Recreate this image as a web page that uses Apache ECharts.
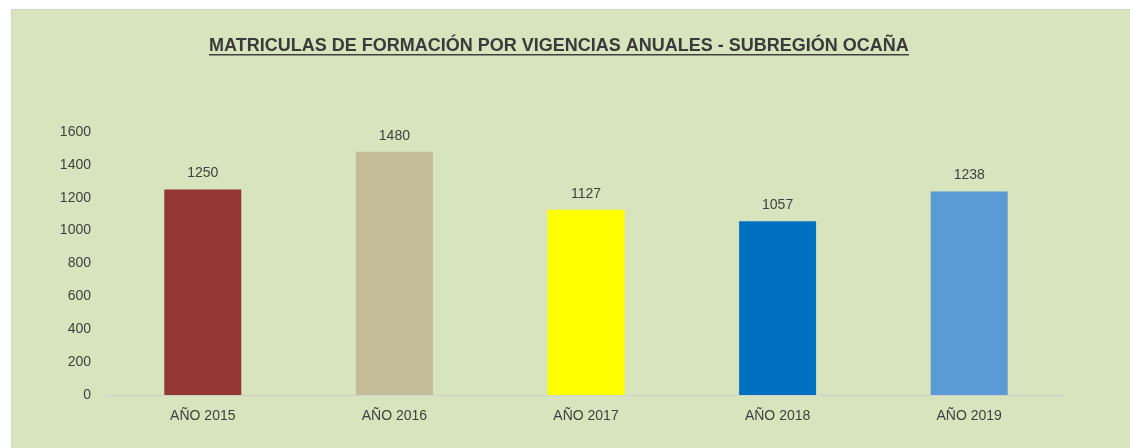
<!DOCTYPE html>
<html>
<head>
<meta charset="utf-8">
<script src="https://cdn.jsdelivr.net/npm/echarts@6/dist/echarts.min.js"></script>
<style>
  html, body { margin: 0; padding: 0; background: #fff; }
  #chart { width: 1130px; height: 448px; }
</style>
</head>
<body>
<div id="chart"></div>
<script>
var titleText = 'MATRICULAS DE FORMACIÓN POR VIGENCIAS ANUALES - SUBREGIÓN OCAÑA';
var years = ['AÑO 2015', 'AÑO 2016', 'AÑO 2017', 'AÑO 2018', 'AÑO 2019'];
var matriculas = [1250, 1480, 1127, 1057, 1238];
var barColors = ['#943634', '#C4BD97', '#FFFF00', '#0070C0', '#5B9BD5'];

var titleFont = 'bold 18px "Liberation Sans"';
var titleSize = 18;
var titleCenter = 559;

// ancho del título para el subrayado
var ctx = document.createElement('canvas').getContext('2d');
ctx.font = titleFont;
var titleW = Math.round(ctx.measureText(titleText).width);
var titleLeft = Math.round(titleCenter - titleW / 2);

var myChart = echarts.init(document.getElementById('chart'));

var barData = [];
for (var i = 0; i < matriculas.length; i++) {
    barData.push({ value: matriculas[i], itemStyle: { color: barColors[i] } });
}

var option = {
    backgroundColor: '#ffffff',
    textStyle: { fontFamily: 'Liberation Sans' },
    graphic: [
        { // fondo verde del gráfico
            type: 'rect', z: -10, left: 11, top: 9,
            shape: { width: 1119, height: 439 },
            style: { fill: '#D7E4BD', stroke: '#d0d4c8', lineWidth: 1 }
        },
        { // subrayado del título
            type: 'rect', z: 10, left: titleLeft, top: 54,
            shape: { width: titleW, height: 1.5 },
            style: { fill: '#404040' }
        }
    ],
    title: {
        text: titleText,
        left: titleLeft,
        top: 37,
        padding: 0,
        textStyle: { fontSize: titleSize, fontWeight: 'bold', color: '#3a3a3a', fontFamily: 'Liberation Sans' }
    },
    grid: { left: 107, right: 65, top: 132, bottom: 53 },
    xAxis: {
        type: 'category',
        data: years,
        axisLine: { lineStyle: { color: '#D0D0D0', width: 1 } },
        axisTick: { show: false },
        axisLabel: { color: '#404040', fontSize: 14, margin: 14 }
    },
    yAxis: {
        type: 'value',
        min: 0, max: 1600, interval: 200,
        splitLine: { show: false },
        axisLine: { show: false },
        axisTick: { show: false },
        axisLabel: { color: '#404040', fontSize: 14, margin: 16, formatter: function (v) { return String(v); } }
    },
    series: [{
        type: 'bar',
        data: barData,
        barWidth: 77,
        label: { show: true, position: 'top', distance: 9, color: '#404040', fontSize: 14 }
    }]
};

myChart.setOption(option);
</script>
</body>
</html>
